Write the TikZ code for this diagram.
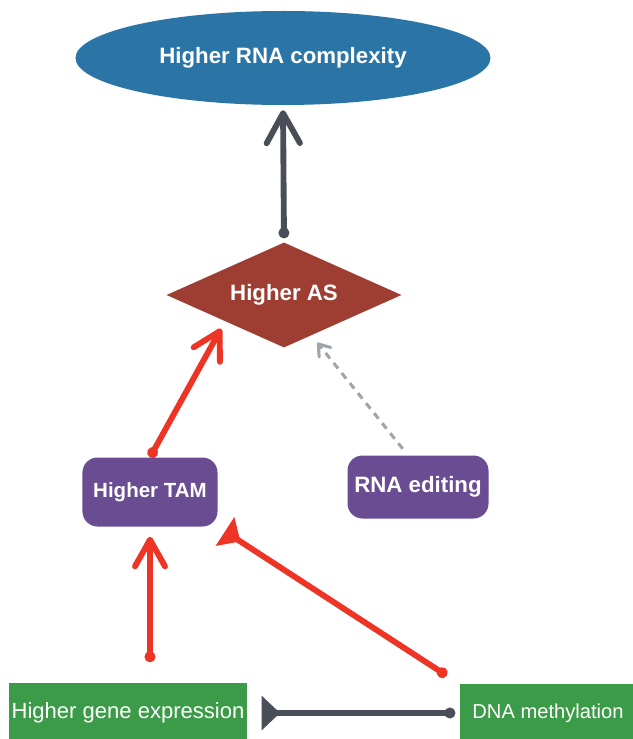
\documentclass[tikz,border=0pt]{standalone}
\usepackage{fontspec}
\setmainfont{Liberation Sans}
\usepackage{tikz}
\usepackage{xcolor}
\usetikzlibrary{arrows.meta, positioning, shapes}
\definecolor{cplxblue}{RGB}{43, 117, 166}
\definecolor{asred}{RGB}{158, 62, 50}
\definecolor{tampurple}{RGB}{106, 76, 146}
\definecolor{exprgreen}{RGB}{60, 155, 72}
\definecolor{arrred}{RGB}{238, 52, 36}
\definecolor{arrgray}{RGB}{74, 78, 88}
\definecolor{dashgray}{RGB}{160, 165, 170}

\begin{document}
\begin{tikzpicture}[x=0.03cm, y=-0.03cm,
          lbl/.style={text=white,font=\bfseries\fontsize{19}{22}\selectfont},
          box/.style={lbl,fill=tampurple,rounded corners=0.45cm,inner sep=0pt},
          gbox/.style={fill=exprgreen,text=white,inner sep=0pt,
                       font=\fontsize{18.8}{21}\selectfont},
          link/.style={line width=5pt,line cap=round}]
        \useasboundingbox (0,0) rectangle (632,739);
        \node[ellipse,fill=cplxblue,minimum width=12.45cm,minimum height=2.82cm,lbl]
          (cplx) at (283,58) {\raisebox{4pt}{Higher RNA complexity}};
        \node[diamond,fill=asred,aspect=2.24,minimum width=7.05cm,
          minimum height=3.15cm,inner sep=0pt,lbl] (as) at (284,295) {Higher AS};
        \node[box,minimum width=4.05cm,minimum height=2.07cm,
          font=\bfseries\fontsize{17.5}{20}\selectfont] (tam) at (150,492) {Higher TAM};
        \node[box,minimum width=4.23cm,minimum height=1.89cm] (edit) at (418,487)
          {RNA editing};
        \node[gbox,minimum width=7.11cm,minimum height=1.8cm] (expr) at (128,713)
          {Higher gene expression};
        \node[gbox,minimum width=5.31cm,minimum height=1.74cm,
          font=\fontsize{17.2}{20}\selectfont] (meth) at (548,713) {DNA methylation};
        \draw[link,arrgray,{Circle[length=3.2mm]}-{Straight Barb[length=9mm,width=1cm,round]},
          shorten <=0.12cm,shorten >=0.15cm] (as.north) -- (cplx.south);
        \draw[link,arrred,{Circle[length=3.2mm]}-{Straight Barb[length=8mm,width=9mm,round]},
          shorten >=0.25cm] (tam.north) -- (as.south west);
        \draw[dashgray,line width=2.6pt,dash pattern=on 6pt off 5pt,
          -{Straight Barb[length=3.2mm,width=4.5mm,round]},shorten <=0.25cm]
          ([xshift=-0.3cm]edit.north) -- ([xshift=1cm,yshift=0.15cm]as.south);
        \draw[link,arrred,{Circle[length=3.2mm]}-{Straight Barb[length=8mm,width=9mm,round]},
          shorten <=0.62cm,shorten >=0.3cm] (expr.north -| tam.south) -- (tam.south);
        \draw[link,arrred,{Circle[length=3.2mm]}-{Triangle[reversed,length=5.5mm,width=1cm]},
          shorten <=0.45cm,shorten >=0.26cm] (meth.north west) -- (tam.south east);
        \draw[link,arrgray,{Circle[length=3.2mm]}-{Triangle[reversed,length=5.5mm,width=1cm]},
          shorten <=0.12cm,shorten >=0.45cm] (meth.west) -- (expr.east);
      \end{tikzpicture}
\end{document}
